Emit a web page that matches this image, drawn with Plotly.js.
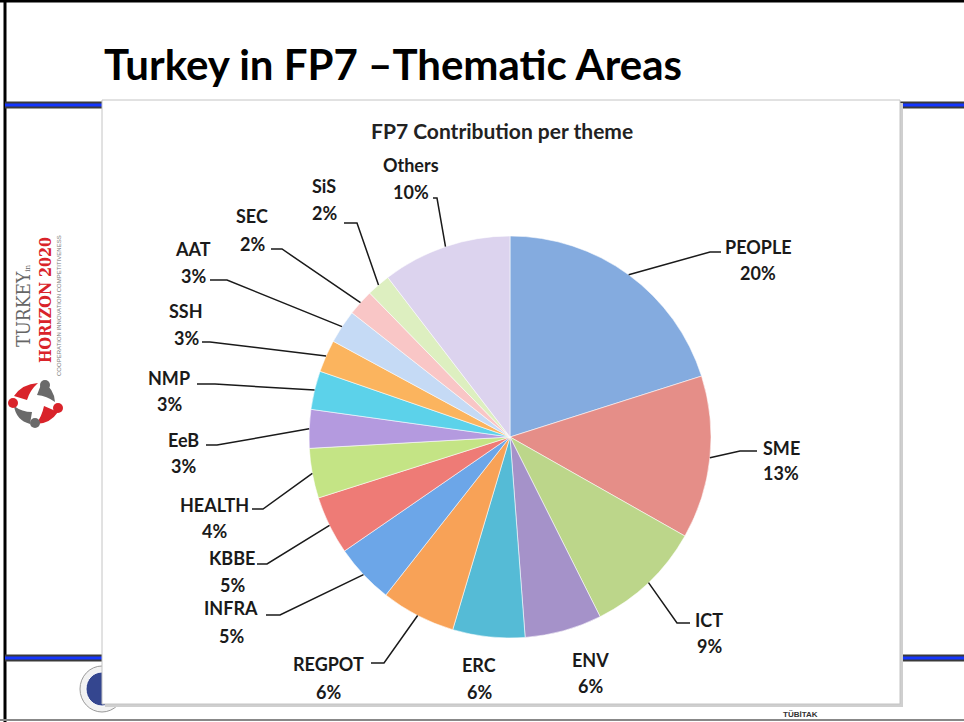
<!DOCTYPE html>
<html>
<head>
<meta charset="utf-8">
<script src="https://cdn.plot.ly/plotly-3.0.1.min.js"></script>
<style>html,body{margin:0;padding:0;background:#fff;}#chart{width:964px;height:722px;}</style>
</head>
<body>
<div id="chart"></div>
<script>
// ---- data ----
const themes = ['PEOPLE','SME','ICT','ENV','ERC','REGPOT','INFRA','KBBE','HEALTH','EeB','NMP','SSH','AAT','SEC','SiS','Others'];
const shares = [20.1,13.1,9.4,6.2,5.8,6.0,4.8,4.7,4.0,3.1,3.1,2.6,2.7,2.1,1.9,10.4];
const sliceColors = ['#84ABDF','#E58E88','#BCD68A','#A592C9','#55BBD6','#F8A257','#6CA6E8','#EE7B76',
                     '#C4E485','#B49ADF','#5CD2EA','#FBB45E','#C5DAF5','#F9C6C6','#DDEFC0','#DCD3EE'];
const slideTitle = 'Turkey in FP7 \u2013Thematic Areas';
const chartTitle = 'FP7 Contribution per theme';

// ---- layout helpers (pixel -> paper) ----
const W = 964, H = 722;
const px = x => x / W;
const py = y => 1 - y / H;
const CX = 510, CY = 437, R = 201;

// label positions: [x, nameY, percentY] and leader elbows/ends (layout positions)
const labelPos = [[758,247,273],[781,448,473],[709,620,646],[590,660,686],[479,665,692],[328,664,692],
                  [231,608,636],[232,558,585],[214,505,531],[183,440,466],[169,378,404],[186,311,338],
                  [193,249,276],[252,216,244],[324,186,213],[411,165,192]];
const leaders = [[710,252,721,252],[740,451,757,451],[677,623,690,623],null,null,[384,663,371,663],
                 [280,615,266,615],[267,564,257,564],[263,509,252,509],[217,445,206,445],[215,384,197,384],
                 [210,342,202,342],[227,280,210,280],[282,249,271,249],[357,223,344,223],[437,198,433,198]];

const total = shares.reduce((a,b)=>a+b,0);
const shapes = [];
const annotations = [];

// slide frame
shapes.push({type:'line',xref:'paper',yref:'paper',x0:px(5),x1:px(5),y0:0,y1:1,line:{color:'#000',width:3},layer:'below'});
shapes.push({type:'line',xref:'paper',yref:'paper',x0:0,x1:1,y0:py(1),y1:py(1),line:{color:'#000',width:3},layer:'below'});
shapes.push({type:'line',xref:'paper',yref:'paper',x0:0,x1:1,y0:py(720),y1:py(720),line:{color:'#888',width:2},layer:'below'});
// header & footer rules
[[101.5,108.5],[654.5,661.5]].forEach(([a,b])=>{
  shapes.push({type:'rect',xref:'paper',yref:'paper',x0:px(5),x1:1,y0:py(b),y1:py(a),fillcolor:'#3a3a3a',line:{width:0},layer:'below'});
  shapes.push({type:'rect',xref:'paper',yref:'paper',x0:px(5),x1:1,y0:py(b-2),y1:py(a+2),fillcolor:'#1436ff',line:{width:0},layer:'below'});
});
// seal bottom-left
shapes.push({type:'circle',xref:'paper',yref:'paper',x0:px(80),x1:px(124),y0:py(712),y1:py(666),fillcolor:'#f2f2f2',line:{color:'#999',width:1},layer:'below'});
shapes.push({type:'circle',xref:'paper',yref:'paper',x0:px(86),x1:px(118),y0:py(706),y1:py(672),fillcolor:'#34468f',line:{color:'#fff',width:1},layer:'below'});
// logo symbol (left)
const logoParts = [
  {c:'#d9232a', path:'M 14 396 Q 22 384 38 383 Q 30 390 27 400 Z'},
  {c:'#6a6a6a', path:'M 42 382 Q 54 388 55 402 Q 47 396 37 395 Z'},
  {c:'#d9232a', path:'M 58 412 Q 50 424 36 424 Q 42 416 44 406 Z'},
  {c:'#6a6a6a', path:'M 30 424 Q 16 420 14 406 Q 22 412 32 412 Z'}
];
logoParts.forEach(p=>{
  const d = p.path.replace(/(\d+(?:\.\d+)?) (\d+(?:\.\d+)?)/g,(m,a,b)=>px(+a)+','+py(+b));
  shapes.push({type:'path',xref:'paper',yref:'paper',path:d,fillcolor:p.c,line:{width:0},layer:'below'});
});
[[13,403,'#d9232a'],[45,385,'#6a6a6a'],[58,408,'#d9232a'],[35,423,'#6a6a6a']].forEach(([x,y,c])=>{
  shapes.push({type:'circle',xref:'paper',yref:'paper',x0:px(x-5),x1:px(x+5),y0:py(y+5),y1:py(y-5),fillcolor:c,line:{width:0},layer:'below'});
});
// chart picture box (shadow + box)
shapes.push({type:'rect',xref:'paper',yref:'paper',x0:px(105),x1:px(903),y0:py(707),y1:py(103),fillcolor:'#cfcfcf',line:{width:0},layer:'below'});
shapes.push({type:'rect',xref:'paper',yref:'paper',x0:px(102),x1:px(900),y0:py(704),y1:py(100),fillcolor:'#ffffff',line:{color:'#c4c4c4',width:1},layer:'below'});

// leader lines: start on pie edge at slice mid-angle (from data)
let cum = 0;
shares.forEach((v,i)=>{
  const mid = (cum + v/2) / total * 2 * Math.PI;
  cum += v;
  const L = leaders[i];
  if (!L) return;
  const ex = CX + R * Math.sin(mid), ey = CY - R * Math.cos(mid);
  shapes.push({type:'path',xref:'paper',yref:'paper',
    path:`M ${px(ex)},${py(ey)} L ${px(L[0])},${py(L[1])} L ${px(L[2])},${py(L[3])}`,
    line:{color:'#1a1a1a',width:1.5}});
});

// slice labels (name line + percent line)
const labFont = {family:'Lato, "Open Sans", sans-serif', size:18, color:'#1a1a1a'};
themes.forEach((t,i)=>{
  const pct = Math.round(shares[i]/total*100);
  annotations.push({xref:'paper',yref:'paper',x:px(labelPos[i][0]),y:py(labelPos[i][1]),
    text:`<b>${t}</b>`,showarrow:false,xanchor:'center',yanchor:'middle',font:labFont});
  annotations.push({xref:'paper',yref:'paper',x:px(labelPos[i][0]),y:py(labelPos[i][2]),
    text:`<b>${pct}%</b>`,showarrow:false,xanchor:'center',yanchor:'middle',font:labFont});
});
// titles
annotations.push({xref:'paper',yref:'paper',x:px(102),y:py(64),xanchor:'left',yanchor:'middle',showarrow:false,
  text:`<b>${slideTitle}</b>`,font:{family:'Lato, sans-serif',size:42,color:'#000'}});
annotations.push({xref:'paper',yref:'paper',x:px(502),y:py(130),xanchor:'center',yanchor:'middle',showarrow:false,
  text:`<b>${chartTitle}</b>`,font:{family:'Lato, sans-serif',size:21,color:'#222'}});
// logo texts (rotated)
annotations.push({xref:'paper',yref:'paper',x:px(23),y:py(306),textangle:-90,showarrow:false,xanchor:'center',yanchor:'middle',
  text:'TURKEY<span style="font-size:8px">in</span>',font:{family:'"DejaVu Serif Condensed", "DejaVu Serif", serif',size:19,color:'#666'}});
annotations.push({xref:'paper',yref:'paper',x:px(45),y:py(300),textangle:-90,showarrow:false,xanchor:'center',yanchor:'middle',
  text:'<b>HORIZON 2020</b>',font:{family:'"DejaVu Serif Condensed", "DejaVu Serif", serif',size:16,color:'#d9232a'}});
annotations.push({xref:'paper',yref:'paper',x:px(59),y:py(306),textangle:-90,showarrow:false,xanchor:'center',yanchor:'middle',
  text:'COOPERATION INNOVATION COMPETITIVENESS',font:{family:'"Liberation Sans Narrow", sans-serif',size:6,color:'#777'}});
annotations.push({xref:'paper',yref:'paper',x:px(800),y:py(714),showarrow:false,xanchor:'center',yanchor:'middle',
  text:'<b>TÜBİTAK</b>',font:{family:'"Liberation Sans Narrow", sans-serif',size:8,color:'#333'}});

const trace = {
  type:'pie', labels:themes, values:shares, sort:false, direction:'clockwise', rotation:0,
  marker:{colors:sliceColors, line:{color:'rgba(255,255,255,0.55)', width:1}},
  textinfo:'none', hoverinfo:'label+percent', showlegend:false,
  domain:{x:[px(CX-R),px(CX+R)], y:[py(CY+R),py(CY-R)]}
};

Plotly.newPlot('chart',[trace],{
  width:W,height:H,margin:{l:0,r:0,t:0,b:0},paper_bgcolor:'#fff',showlegend:false,
  shapes:shapes,annotations:annotations
},{staticPlot:true});
</script>
</body>
</html>
